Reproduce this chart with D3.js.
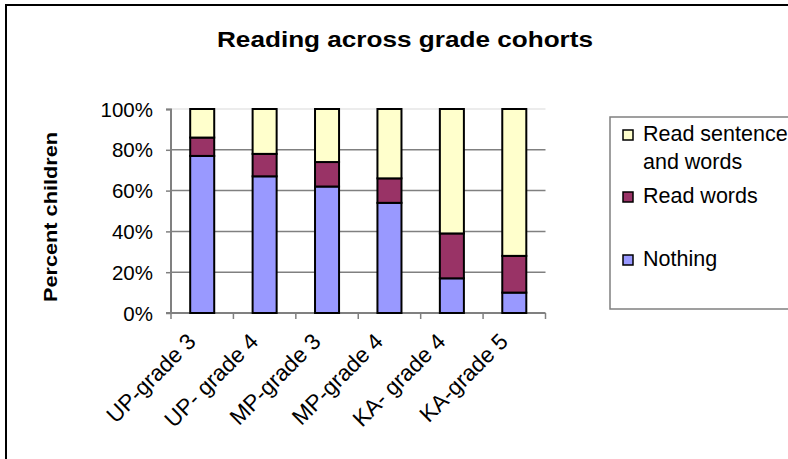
<!DOCTYPE html>
<html>
<head>
<meta charset="utf-8">
<script src="https://cdn.jsdelivr.net/npm/d3@7"></script>
<style>
  html, body { margin: 0; background: #fff; overflow: hidden; }
  svg { display: block; font-family: "Liberation Sans", Arial, sans-serif; }
</style>
</head>
<body>
<div id="chart"></div>
<script>

var cohorts = [ "UP-grade 3", "UP- grade 4", "MP-grade 3", "MP-grade 4", "KA- grade 4", "KA-grade 5" ];
var nothing = [ 77, 67, 62, 54, 17, 10 ];
var readWords = [ 9, 11, 12, 12, 22, 18 ];
var readSentence = [ 14, 22, 26, 34, 61, 72 ];
var yTicks = [ 0, 20, 40, 60, 80, 100 ];

var seriesKeys = [ "nothing", "readWords", "readSentence" ];
var seriesColor = { nothing: "#9999ff", readWords: "#993366", readSentence: "#ffffcc" };

var rows = cohorts.map( function( c, i ) {
    return { cohort: c, nothing: nothing[i], readWords: readWords[i], readSentence: readSentence[i] };
});

var svg = d3.select( '#chart' ).append( 'svg' ).attr( 'width', 788 ).attr( 'height', 459 );

// outer chart frame (runs off the right and bottom edge)
svg.append( 'path' )
    .attr( 'd', 'M6,470V5H800' )
    .attr( 'fill', 'none' ).attr( 'stroke', '#000' ).attr( 'stroke-width', 2 );

svg.append( 'text' )
    .attr( 'x', 405 ).attr( 'y', 47 )
    .attr( 'text-anchor', 'middle' )
    .attr( 'font-size', '22px' ).attr( 'font-weight', 'bold' )
    .attr( 'textLength', 376 ).attr( 'lengthAdjust', 'spacingAndGlyphs' )
    .text( 'Reading across grade cohorts' );

var x = d3.scaleBand().domain( cohorts ).range( [171, 545.5] ).paddingInner( 0.615 ).paddingOuter( 0.3075 );
var y = d3.scaleLinear().domain( [0, 100] ).range( [313, 109] );

// gridlines
svg.append( 'g' ).selectAll( 'line' ).data( yTicks.filter( function( d ) { return d > 0; } ) )
    .enter().append( 'line' )
    .attr( 'x1', 171 ).attr( 'x2', 545.5 )
    .attr( 'y1', function( d ) { return y( d ); } ).attr( 'y2', function( d ) { return y( d ); } )
    .attr( 'stroke', function( d ) { return d === 100 ? '#e6e6e6' : '#808080'; } )
    .attr( 'stroke-width', 1.5 );

// y axis
var yAxis = svg.append( 'g' ).attr( 'transform', 'translate(171,0)' )
    .call( d3.axisLeft( y ).tickValues( yTicks ).tickSize( 5 ).tickPadding( 13 )
        .tickFormat( function( d ) { return d + '%'; } ) );
yAxis.select( '.domain' ).attr( 'stroke', '#808080' ).attr( 'stroke-width', 2 ).attr( 'd', 'M-5,109.5H0V313H-5' );
yAxis.selectAll( '.tick line' ).attr( 'stroke', '#808080' ).attr( 'stroke-width', 1.5 );
yAxis.selectAll( '.tick text' )
    .attr( 'font-size', '20.5px' ).attr( 'font-family', '"Liberation Sans", Arial, sans-serif' )
    .attr( 'fill', '#000' ).attr( 'dy', '0.35em' );

// x axis: ticks between categories
var xAxis = svg.append( 'g' ).attr( 'transform', 'translate(0,313)' );
xAxis.append( 'line' ).attr( 'x1', 171 ).attr( 'x2', 545.5 ).attr( 'y1', 0 ).attr( 'y2', 0 )
    .attr( 'stroke', '#808080' ).attr( 'stroke-width', 2 );
var bounds = cohorts.map( function( c ) { return x( c ) - x.step() * x.paddingInner() / 2; } );
bounds.push( 545.5 );
xAxis.selectAll( 'line.tk' ).data( bounds ).enter().append( 'line' ).attr( 'class', 'tk' )
    .attr( 'x1', function( d ) { return d; } ).attr( 'x2', function( d ) { return d; } )
    .attr( 'y1', 0 ).attr( 'y2', 6 )
    .attr( 'stroke', '#808080' ).attr( 'stroke-width', 1.5 );

svg.append( 'g' ).selectAll( 'text' ).data( cohorts ).enter().append( 'text' )
    .attr( 'transform', function( d ) {
        return 'translate(' + ( x( d ) + x.bandwidth() / 2 - 5 ) + ',343) rotate(-45)';
    })
    .attr( 'text-anchor', 'end' )
    .attr( 'font-size', '22.5px' )
    .text( function( d ) { return d; } );

// stacked bars
var stacked = d3.stack().keys( seriesKeys )( rows );
svg.append( 'g' ).selectAll( 'g' ).data( stacked ).enter().append( 'g' )
    .attr( 'fill', function( s ) { return seriesColor[ s.key ]; } )
    .selectAll( 'rect' ).data( function( s ) { return s; } ).enter().append( 'rect' )
    .attr( 'x', function( d ) { return x( d.data.cohort ); } )
    .attr( 'width', x.bandwidth() )
    .attr( 'y', function( d ) { return y( d[1] ); } )
    .attr( 'height', function( d ) { return y( d[0] ) - y( d[1] ); } )
    .attr( 'stroke', '#000' ).attr( 'stroke-width', 2 );

svg.append( 'text' )
    .attr( 'transform', 'translate(57,217) rotate(-90)' )
    .attr( 'text-anchor', 'middle' )
    .attr( 'font-size', '18px' ).attr( 'font-weight', 'bold' )
    .attr( 'textLength', 170 ).attr( 'lengthAdjust', 'spacingAndGlyphs' )
    .text( 'Percent children' );

// legend (box runs past the right edge)
var legend = svg.append( 'g' );
legend.append( 'path' )
    .attr( 'd', 'M800,117H610V309H800' )
    .attr( 'fill', '#fff' ).attr( 'stroke', '#808080' ).attr( 'stroke-width', 1.5 );

var legendItems = [
    { key: 'readSentence', lines: [ 'Read sentence', 'and words' ], top: 130 },
    { key: 'readWords', lines: [ 'Read words' ], top: 192 },
    { key: 'nothing', lines: [ 'Nothing' ], top: 255 }
];
var li = legend.selectAll( 'g.item' ).data( legendItems ).enter().append( 'g' ).attr( 'class', 'item' );
li.append( 'rect' )
    .attr( 'x', 623 ).attr( 'y', function( d ) { return d.top; } )
    .attr( 'width', 10 ).attr( 'height', 10 )
    .attr( 'fill', function( d ) { return seriesColor[ d.key ]; } )
    .attr( 'stroke', '#000' ).attr( 'stroke-width', 1.5 );
li.selectAll( 'text' ).data( function( d ) {
        return d.lines.map( function( t, i ) { return { t: t, y: d.top + 11 + i * 27.5 }; } );
    })
    .enter().append( 'text' )
    .attr( 'x', 643 ).attr( 'y', function( d ) { return d.y; } )
    .attr( 'font-size', '21.5px' )
    .text( function( d ) { return d.t; } );

</script>
</body>
</html>
